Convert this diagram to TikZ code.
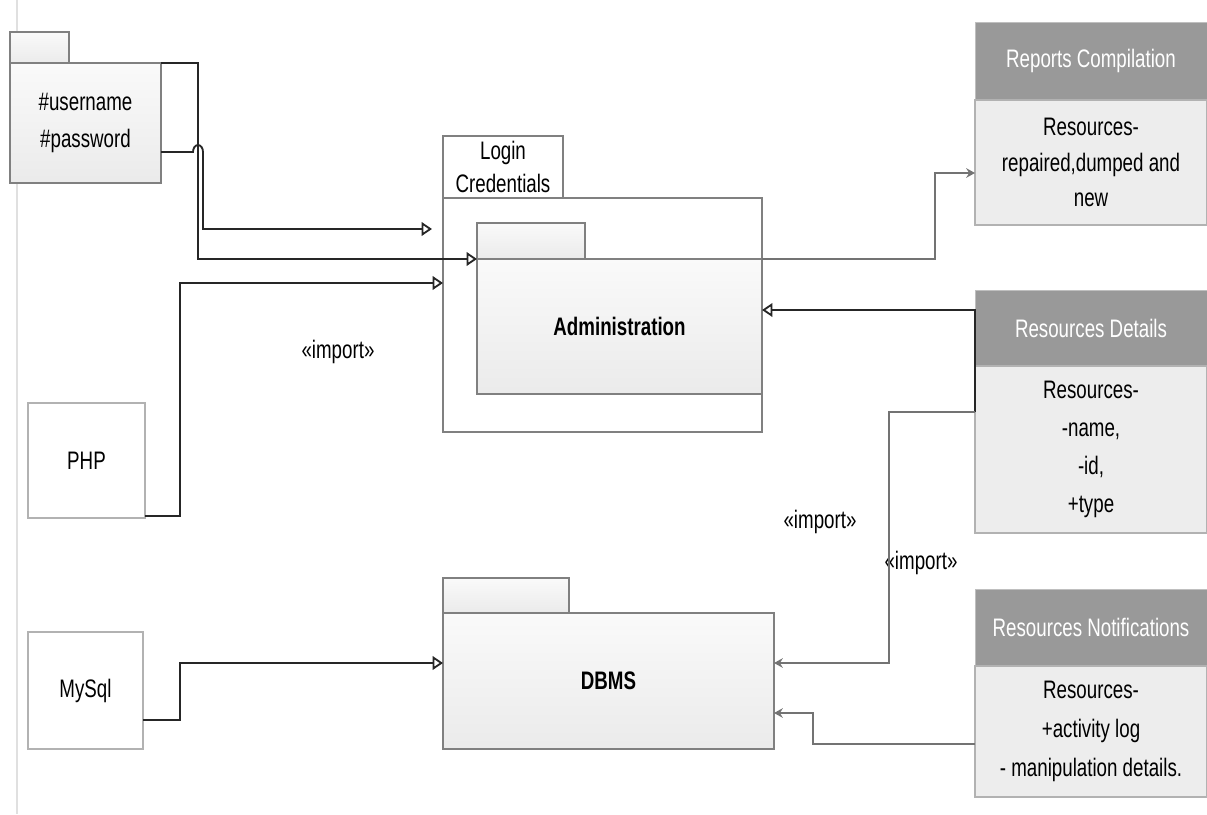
\documentclass[tikz,border=0pt]{standalone}
\usepackage{fontspec}
\setmainfont{Liberation Sans}[FakeStretch=0.74]
\usepackage{tikz}
\usetikzlibrary{arrows.meta,positioning,calc}
\newcommand{\umlfont}{\fontsize{18}{26}\selectfont}

\begin{document}
\begin{tikzpicture}[
  x=0.025cm, y=-0.025cm,
  font=\umlfont,
  sz/.style 2 args={minimum width=#1*0.025cm, minimum height=#2*0.025cm},
  boxbase/.style={anchor=north west, inner sep=0pt, outer sep=0pt, align=center},
  pkg/.style={boxbase, draw=black!50, line width=0.9pt, top color=black!2, bottom color=black!8},
  pkgtab/.style={pkg},
  frame/.style={boxbase, draw=black!50, line width=0.9pt, fill=white},
  plain/.style={boxbase, draw=black!30, line width=0.9pt, fill=white},
  hdr/.style={boxbase, draw=black!25, fill=black!40, text=white},
  attr/.style={boxbase, draw=black!30, line width=0.9pt, fill=black!7},
  lbl/.style={inner sep=0pt},
  opentip/.style={-{Triangle[open, length=2.6mm, width=3.4mm, fill=white]}, line width=1.3pt, black!85},
  graytip/.style={-{Stealth[length=2.2mm, width=2.4mm]}, line width=1pt, black!55},
]
\useasboundingbox (0,0) rectangle (1207,814);
\draw[black!12, line width=1pt] (17,0) -- (17,814);

\node[pkgtab, sz={59}{31}] (credtab) at (10,32) {};
\node[pkg, sz={151}{120}, font=\fontsize{18}{26.3}\selectfont] (cred) at (10,63) {\#username\\\#password};
\node[plain, sz={117}{115}] (php) at (28,403) {PHP};
\node[plain, sz={115}{117}] (mysql) at (28,632) {MySql};

\node[frame, sz={120}{62}, font=\fontsize{18}{23.5}\selectfont] (logintab) at (443,136) {Login\\Credentials};
\node[frame, sz={319}{234}] (login) at (443,198) {};
\node[pkgtab, sz={108}{36}] (admintab) at (477,223) {};
\node[pkg, sz={285}{135}, font=\umlfont\bfseries] (admin) at (477,259) {Administration};
\node[pkgtab, sz={126}{35}] (dbmstab) at (443,578) {};
\node[pkg, sz={331}{136}, font=\umlfont\bfseries] (dbms) at (443,613) {DBMS};

\node[hdr, sz={232}{78}] (rephead) at (975,22) {Reports Compilation};
\node[attr, sz={232}{125}, font=\fontsize{18}{25}\selectfont] (repbody) at (975,100) {Resources-\\repaired,dumped and\\new};
\node[hdr, sz={232}{76}] (dethead) at (975,290) {Resources Details};
\node[attr, sz={232}{167}, font=\fontsize{18}{27}\selectfont] (detbody) at (975,366) {Resources-\\-name,\\-id,\\+type};
\node[hdr, sz={232}{77}] (nothead) at (975,589) {Resources Notifications};
\node[attr, sz={232}{131}, font=\fontsize{18}{27.7}\selectfont] (notbody) at (975,666) {Resources-\\+activity log\\- manipulation details.};

\node[lbl] (imp1) at (338,352) {«import»};
\node[lbl] (imp2) at (820,522) {«import»};
\node[lbl] (imp3) at (921,563) {«import»};

\coordinate (logingap) at ($(login.north west)+(-11,31)$);
\draw[opentip] (cred.north east) -- ++(37,0) |- (admin.north west);
\draw[opentip] ($(cred.south east)+(0,-31)$) -- ++(32,0)
  arc[start angle=180, end angle=360, x radius=5, y radius=7] |- (logingap);
\draw[opentip] ($(php.south east)+(0,-2)$) -- ++(35,0) |- ($(login.north west)+(0,85)$);
\draw[opentip] ($(mysql.south east)+(0,-29)$) -- ++(37,0) |- ($(dbms.north west)+(0,50)$);
\draw[opentip] ($(detbody.north west)+(0,46)$) |- ($(admin.north east)+(0,51)$);
\draw[graytip] (admin.north east) -- ++(173,0) |- ($(repbody.north west)+(0,73)$);
\draw[graytip] ($(detbody.north west)+(0,46)$) -- ++(-86,0) |- ($(dbms.north east)+(0,50)$);
\draw[graytip] ($(notbody.north west)+(0,78)$) -- ++(-162,0) |- ($(dbms.north east)+(0,100)$);
\end{tikzpicture}
\end{document}
